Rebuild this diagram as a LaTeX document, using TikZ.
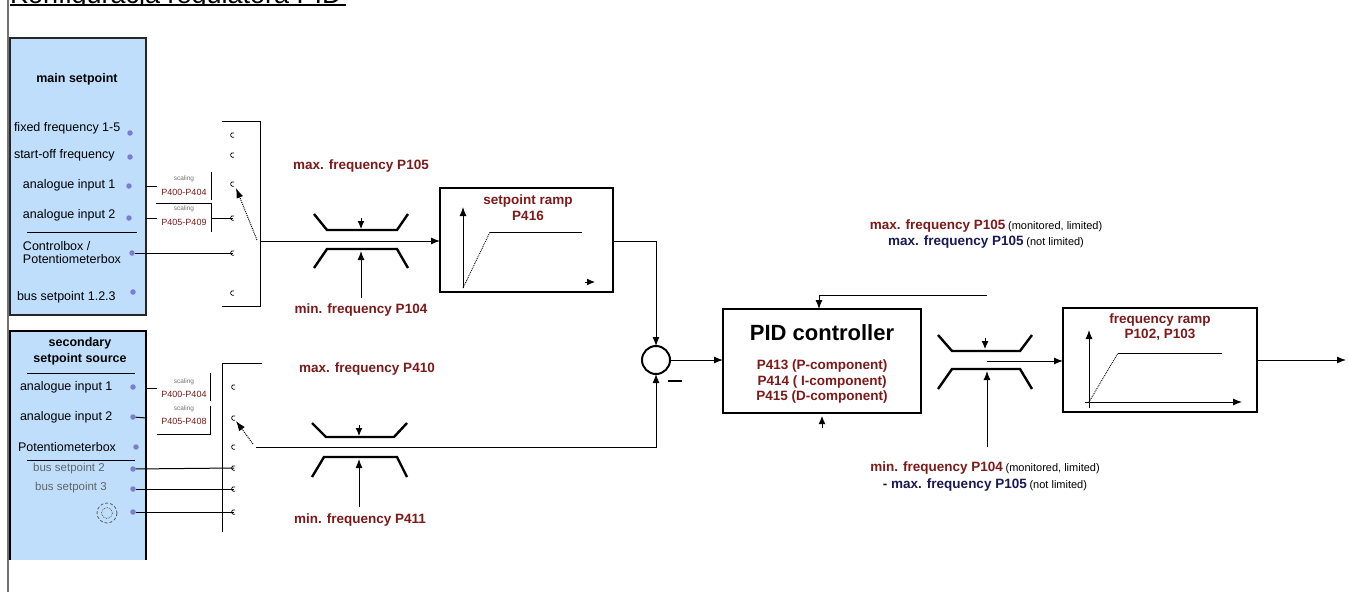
\documentclass[tikz,border=0pt]{standalone}
\usepackage{fontspec}
\setmainfont{Liberation Sans}
\usetikzlibrary{arrows.meta}
\definecolor{dred}{RGB}{125,25,25}
\definecolor{navyc}{RGB}{25,25,85}
\definecolor{panelblue}{RGB}{190,222,252}
\definecolor{dotc}{RGB}{125,125,205}
\begin{document}
\begin{tikzpicture}[x=1pt,y=-1pt,
  every node/.style={inner sep=0pt, outer sep=0pt},
  panel/.style={fill=panelblue, draw=black!85, line width=1.2pt, anchor=north west},
  ptext/.style={font=\fontsize{12.5}{13}\selectfont, anchor=west, align=left},
  gtext/.style={font=\fontsize{11.5}{13}\selectfont, text=black!60},
  ptitle/.style={font=\bfseries\fontsize{12.5}{16}\selectfont, align=center},
  dotn/.style={circle, fill=dotc, minimum size=5.5pt},
  wire/.style={line width=1pt},
  arr/.style={wire, -{Latex[length=9pt,width=7pt]}},
  sarr/.style={wire, -{Latex[length=8pt,width=7pt]}},
  rlab/.style={text=dred, font=\bfseries\fontsize{13.5}{15.5}\selectfont, align=center},
  blk/.style={draw, line width=1.3pt, anchor=north west},
  lim/.style={line width=2.4pt},
  scl/.style={font=\fontsize{6.5}{7}\selectfont, text=black!55},
  sclp/.style={font=\fontsize{9}{10}\selectfont, text=dred},
  swarr/.style={densely dotted, line width=1pt, -{Latex[length=10pt,width=7pt]}},
  contact/.style={line width=0.7pt},
]
\useasboundingbox (0,0) rectangle (1349,592);

% title (cut off at the top, as in the original)
\begin{scope}
\clip (0,0) rectangle (400,4.2);
\node[anchor=base west, font=\fontsize{27}{30}\selectfont] (title) at (10,3) {Konfiguracja regulatora PID};
\end{scope}
\draw[line width=2pt] (10,5.2) -- (346,5.2);
\draw[black!55, line width=1.2pt] (8,0) -- (8,592);

% ---------------- main setpoint panel
\node[panel, minimum width=136pt, minimum height=277pt] (mp) at (10,38) {};
\node[ptitle] (mpt) at (77,79) {main setpoint};
\node[ptext] (t1) at (14,128) {fixed frequency 1-5};
\node[ptext] (t2) at (14,155) {start-off frequency};
\node[ptext] (t3) at (23,185) {analogue input 1};
\node[ptext] (t4) at (23,215) {analogue input 2};
\draw[wire] (27,232) -- (137,232);
\node[ptext] (t5) at (23,253) {Controlbox /\\Potentiometerbox};
\node[ptext] (t6) at (17,297) {bus setpoint 1.2.3};

% contacts of switch 1
\foreach \n/\yy in {1/135,2/155,3/184,4/218,5/253,6/293}{
  \coordinate (ka\n) at (233,\yy);
  \draw[contact] (ka\n) ++(60:2.4) arc[start angle=60,end angle=300,radius=2.4];
}
\draw[wire] (222,121) -- (260,121) -- (260,306) -- (222,306);
\coordinate (sw1) at (260,241);
\draw[swarr] (257,240) -- (236,188);

% scaling boxes main
\node[scl] (s1a) at (184,179) {scaling};
\node[sclp] (s1b) at (184,192) {P400-P404};
\draw[wire] (211,172) -- (211,200);
\draw[wire] (156,203) -- (211,203) -- (211,232);
\node[scl] (s2a) at (184,209) {scaling};
\node[sclp] (s2b) at (184,222) {P405-P409};
\draw[wire] (211,218) -- (ka4);

% dots main
\node[dotn] (d1) at (130,133) {};
\node[dotn] (d2) at (130,157) {};
\node[dotn] (d3) at (129,186) {};
\node[dotn] (d4) at (129,218) {};
\node[dotn] (d5) at (132,253) {};
\node[dotn] (d6) at (133,292) {};
\draw[wire] (145,186) -- (157,186);
\draw[wire] (145,218) -- (157,218);
\draw[wire] (d5) -- (ka5);

% limiter 1
\draw[lim] (314,214) -- (327,230) -- (397,230) -- (408,214);
\draw[lim] (314,268) -- (327,249) -- (397,249) -- (408,268);
\coordinate (l1t) at (361,218);
\draw[sarr] (l1t) -- ++(0,11);
\coordinate (l1b) at (361,298);
\draw[arr] (l1b) -- (361,251);
\node[rlab] (l1max) at (361,166) {max. frequency P105};
\node[rlab] (l1min) at (361,310) {min. frequency P104};

% setpoint ramp
\node[blk, minimum width=173pt, minimum height=104pt] (spr) at (440,188) {};
\draw[arr] (sw1) -- (sw1 -| spr.west);
\node[rlab] (sprt) at (528,207.5) {setpoint ramp\\P416};
\coordinate (sp0) at (463,288);
\draw[arr] (sp0) -- (463,207);
\draw[densely dotted, line width=0.9pt] (sp0) -- (490,232);
\draw[wire] (490,232) -- (582,232);
\coordinate (spx) at (585,282);
\draw[sarr] (spx) -- ++(10,0);

% summing point
\node[circle, draw, line width=2pt, minimum size=28pt] (sum) at (656,360) {};
\draw[arr] (spr.east |- sw1) -| (sum.north);
\draw[line width=2pt] (668,381) -- (682,381);

% PID controller
\node[blk, minimum width=198pt, minimum height=104pt] (pid) at (723,309) {};
\node[font=\bfseries\fontsize{22}{24}\selectfont] (pidt) at (822,333) {PID controller};
\node[rlab] (pidp) at (822,382) {P413 (P-component)\\P414 ( I-component)\\P415 (D-component)};
\draw[arr] (sum.east) -- (pid.west |- sum.east);
\coordinate (fb) at (987,295);
\draw[arr] (fb) -| ([xshift=-3pt]pid.north);
\coordinate (pidb) at (822,428);
\draw[sarr] (pidb) -- ++(0,-12);

% limiter 2
\draw[lim] (938,335) -- (952,351) -- (1020,351) -- (1032,335);
\draw[lim] (938,389) -- (952,369) -- (1020,369) -- (1032,389);
\coordinate (l2t) at (985,338);
\draw[sarr] (l2t) -- ++(0,11);
\coordinate (l2b) at (987,447);
\draw[arr] (l2b) -- (987,371);
\coordinate (lim2) at (987,361);

% frequency ramp
\node[blk, minimum width=194pt, minimum height=104pt] (fr) at (1063,308) {};
\draw[arr] (lim2) -- (lim2 -| fr.west);
\node[rlab] (frt) at (1160,327) {frequency ramp\\P102, P103};
\coordinate (fr0) at (1089,402);
\draw[arr] (1089,408) -- (1089,330);
\draw[arr] (1085,402) -- (1242,402);
\draw[densely dotted, line width=0.9pt] (fr0) -- (1118,353);
\draw[wire] (1118,353) -- (1222,353);
\coordinate (out) at (1346,360);
\draw[arr] (fr.east) -- (out);

% labels right
\node (rl1) at (986,226) {\textcolor{dred}{\bfseries\fontsize{13.5}{15}\selectfont max. frequency P105} {\fontsize{11}{13}\selectfont(monitored, limited)}};
\node (rl2) at (986,242) {\textcolor{navyc}{\bfseries\fontsize{13.5}{15}\selectfont max. frequency P105} {\fontsize{11}{13}\selectfont(not limited)}};
\node (rl3) at (985,468) {\textcolor{dred}{\bfseries\fontsize{13.5}{15}\selectfont min. frequency P104} {\fontsize{11}{13}\selectfont(monitored, limited)}};
\node (rl4) at (985,485) {\textcolor{navyc}{\bfseries\fontsize{13.5}{15}\selectfont - max. frequency P105} {\fontsize{11}{13}\selectfont(not limited)}};

% ---------------- secondary panel
\node[panel, draw=none, minimum width=136pt, minimum height=229pt] (sp) at (10,331) {};
\draw[line width=1.2pt] (sp.south west) -- (sp.north west) -- (sp.north east) -- (sp.south east);
\node[ptitle] (spt) at (80,351) {secondary\\setpoint source};
\draw[wire] (27,373) -- (135,373);
\node[ptext] (u1) at (20,387) {analogue input 1};
\node[ptext] (u2) at (20,417) {analogue input 2};
\node[ptext] (u3) at (18,447) {Potentiometerbox};
\draw[wire] (27,460) -- (135,460);
\node[gtext] (u4) at (69,469) {bus setpoint 2};
\node[gtext] (u5) at (71,488) {bus setpoint 3};
\coordinate (can) at (107,513);
\draw[densely dashed, line width=0.7pt, black!70] (can) circle[radius=10];
\draw[densely dotted, line width=0.7pt, black!70] (can) circle[radius=5.5];

\foreach \n/\yy in {1/387,2/418,3/447,4/468,5/489,6/512}{
  \coordinate (kb\n) at (234,\yy);
  \draw[contact] (kb\n) ++(60:2.4) arc[start angle=60,end angle=300,radius=2.4];
}
\draw[wire] (262,363) -- (222,363) -- (222,532);
\coordinate (sw2) at (256,447);
\draw[swarr] (253,444) -- (236,421);

% scaling boxes secondary
\node[scl] (s3a) at (184,382) {scaling};
\node[sclp] (s3b) at (184,394) {P400-P404};
\draw[wire] (210,373) -- (210,401);
\node[scl] (s4a) at (184,409) {scaling};
\node[sclp] (s4b) at (184,421) {P405-P408};
\draw[wire] (210,406) -- (210,434) -- (157,434);

\node[dotn] (e1) at (133,387) {};
\node[dotn] (e2) at (133,417) {};
\node[dotn] (e3) at (136,447) {};
\node[dotn] (e4) at (133,469) {};
\node[dotn] (e5) at (133,489) {};
\node[dotn] (e6) at (133,512) {};
\draw[wire] (147,388) -- (157,388);
\draw[wire] (e2) -- (147,418);
\draw[wire] (e4) -- (kb4);
\draw[wire] (e5) -- (kb5);
\draw[wire] (e6) -- (kb6);

% limiter 3
\draw[lim] (312,423) -- (326,437) -- (394,437) -- (407,423);
\draw[lim] (312,477) -- (324,457) -- (397,457) -- (407,477);
\coordinate (l3t) at (359,425);
\draw[sarr] (l3t) -- ++(0,11);
\coordinate (l3b) at (359,507);
\draw[arr] (l3b) -- (359,459);
\node[rlab] (l3max) at (367,369) {max. frequency P410};
\node[rlab] (l3min) at (360,520) {min. frequency P411};

\draw[arr] (sw2) -| (sum.south);
\end{tikzpicture}
\end{document}
